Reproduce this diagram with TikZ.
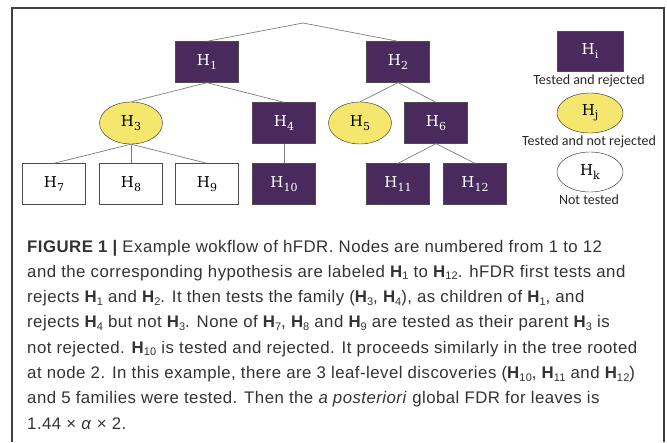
\documentclass[tikz,border=0pt]{standalone}
\usepackage{fontspec}
\newfontfamily\capfont[LetterSpace=2.8]{Liberation Sans}
\newfontfamily\keyfont{Carlito}
\newfontfamily\labfont{DejaVu Serif}
\usetikzlibrary{shapes.geometric}
\definecolor{rejpurple}{RGB}{74,42,92}
\definecolor{ntyellow}{RGB}{245,230,110}
\definecolor{edgegray}{RGB}{125,125,125}
\newcommand{\hsub}[1]{{\bfseries H}\raisebox{-2.6pt}{\fontsize{11}{11}\selectfont #1}}
\newcommand{\hlab}[1]{H\raisebox{-3.5pt}{\fontsize{11}{11}\selectfont #1}}

\begin{document}
\begin{tikzpicture}[x=1pt,y=-1pt,
  lab/.style={inner sep=0pt,font=\labfont\fontsize{15}{15}\selectfont},
  rej/.style={lab,rectangle,draw=black!70,fill=rejpurple,text=white,minimum width=63pt,minimum height=41pt},
  ntr/.style={lab,ellipse,draw=black!85,fill=ntyellow,minimum width=63pt,minimum height=42pt},
  unt/.style={lab,rectangle,draw=black!70,fill=white,minimum width=63pt,minimum height=41pt},
  edge/.style={draw=edgegray,line width=0.7pt},
  keytext/.style={inner sep=0pt,text=black!85,font=\keyfont\fontsize{14}{14}\selectfont},
  capline/.style={anchor=base west,inner sep=0pt,text=black!80,font=\capfont\fontsize{16.8}{16.8}\selectfont}]
\useasboundingbox (0,0) rectangle (667,442);
\draw[black!75,line width=1.1pt] (12,442) -- (12,8) -- (664,8) -- (664,442);
% tree
\coordinate (root) at (303,23);
\node[rej] (h1) at (207,62) {\hlab{1}};
\node[rej] (h2) at (398,62) {\hlab{2}};
\node[ntr] (h3) at (131,123) {\hlab{3}};
\node[rej] (h4) at (284,123) {\hlab{4}};
\node[ntr] (h5) at (360,123) {\hlab{5}};
\node[rej] (h6) at (436,123) {\hlab{6}};
\node[unt] (h7) at (54,184) {\hlab{7}};
\node[unt] (h8) at (131,184) {\hlab{8}};
\node[unt] (h9) at (207,184) {\hlab{9}};
\node[rej] (h10) at (284,184) {\hlab{10}};
\node[rej] (h11) at (398,184) {\hlab{11}};
\node[rej] (h12) at (475,184) {\hlab{12}};
\draw[edge] (h1.north) -- (root) -- (h2.north);
\draw[edge] (h3.north) -- (h1.south) -- (h4.north);
\draw[edge] (h5.north) -- (h2.south) -- (h6.north);
\draw[edge] (h7.north) -- (h3.south) -- (h9.north);
\draw[edge] (h3.south) -- (h8.north);
\draw[edge] (h4.south) -- (h10.north);
\draw[edge] (h11.north) -- (h6.south) -- (h12.north);
% legend
\node[rej,minimum width=66pt,minimum height=40pt] (k1) at (590,51) {\hlab{i}};
\node[keytext] (k1t) at (589,81) {Tested and rejected};
\node[ntr,minimum width=66pt,minimum height=40pt] (k2) at (590,113) {\hlab{j}};
\node[keytext] (k2t) at (589,142) {Tested and not rejected};
\node[ntr,fill=white,minimum width=66pt,minimum height=40pt] (k3) at (590,172) {\hlab{k}};
\node[keytext] (k3t) at (589,200) {Not tested};
% caption
\node[capline] (c1) at (27,252) {{\bfseries FIGURE 1 |} Example wokflow of hFDR. Nodes are numbered from 1 to 12};
\node[capline] (c2) at (27,277.3) {and the corresponding hypothesis are labeled \hsub{1} to \hsub{12}. hFDR first tests and};
\node[capline] (c3) at (27,302.6) {rejects \hsub{1} and \hsub{2}. It then tests the family (\hsub{3}, \hsub{4}), as children of \hsub{1}, and};
\node[capline] (c4) at (27,327.9) {rejects \hsub{4} but not \hsub{3}. None of \hsub{7}, \hsub{8} and \hsub{9} are tested as their parent \hsub{3} is};
\node[capline] (c5) at (27,353.1) {not rejected. \hsub{10} is tested and rejected. It proceeds similarly in the tree rooted};
\node[capline] (c6) at (27,378.4) {at node 2. In this example, there are 3 leaf-level discoveries (\hsub{10}, \hsub{11} and \hsub{12})};
\node[capline] (c7) at (27,403.7) {and 5 families were tested. Then the \textit{a posteriori} global FDR for leaves is};
\node[capline] (c8) at (27,429) {1.44 × \textit{α} × 2.};
\end{tikzpicture}
\end{document}
